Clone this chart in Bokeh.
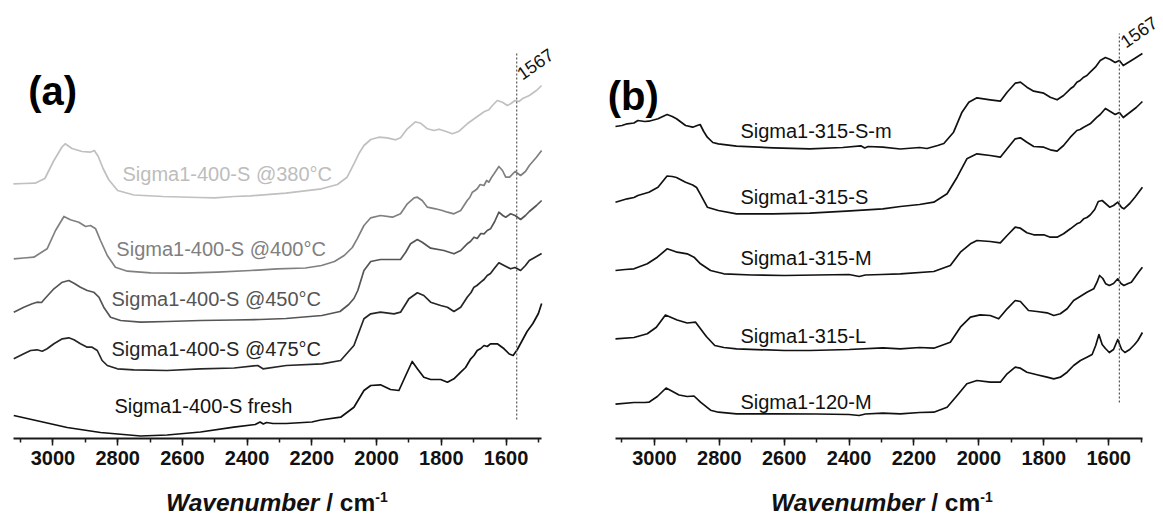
from bokeh.plotting import figure
from bokeh.layouts import row, column
from bokeh.models import Range1d, FixedTicker, Label, Div
from bokeh.core.properties import value
from bokeh.embed import file_html
from bokeh.resources import INLINE

# ---------------------------------------------------------------------------
# Panel (a): Sigma1-400-S, DRIFT spectra after reaction at several temperatures
# (wavenumber in cm-1, intensity in offset arbitrary units)
# ---------------------------------------------------------------------------
A380_WN = [3122, 3090, 3055, 3025, 2997, 2972, 2962, 2941, 2910, 2885, 2872, 2860, 2845,
           2828, 2800, 2750, 2660, 2550, 2500, 2440, 2390, 2280, 2170, 2121, 2091, 2070,
           2055, 2039, 2018, 1993, 1967, 1941, 1926, 1905, 1880, 1864, 1843, 1823, 1807,
           1787, 1766, 1745, 1720, 1694, 1668, 1653, 1642, 1627, 1611, 1596, 1586, 1572,
           1560, 1550, 1528, 1506, 1490]
A380_Y = [257.7, 258, 258.3, 263, 281, 294.5, 297.7, 293, 290, 289.3, 291, 285, 273,
          262, 251, 246.5, 245, 244, 243.7, 245, 245.7, 248.3, 252.7, 257, 264.3, 277.7,
          287.7, 296, 302, 304.3, 303.7, 301.7, 303.7, 312.7, 319.7, 318.3, 312.7, 311, 312.3,
          310.3, 307.7, 310.3, 317.7, 323.7, 329.7, 331.7, 336, 341, 339.3, 336, 337.7, 341,
          340, 342.7, 346, 351, 356]

A400_WN = [3121, 3090, 3059, 3018, 2992, 2966, 2946, 2920, 2899, 2884, 2868, 2853, 2832,
           2807, 2770, 2698, 2595, 2492, 2389, 2307, 2220, 2170, 2130, 2100, 2075, 2060,
           2039, 2018, 1988, 1951, 1926, 1905, 1884, 1874, 1859, 1843, 1818, 1797, 1781,
           1761, 1740, 1720, 1712, 1704, 1696, 1689, 1680, 1668, 1660, 1653, 1645, 1637,
           1622, 1611, 1601, 1589, 1572, 1555, 1540, 1528, 1506, 1490]
A400_Y = [182.7, 183.5, 184.3, 192.7, 211, 225, 221.7, 219.3, 215, 216, 212.7, 201, 186,
          174.3, 170.3, 168.7, 168.3, 169.3, 171, 172.7, 173.5, 176, 180, 186, 194, 202.7,
          216, 223.7, 226, 224.3, 227.7, 237.7, 243.7, 244.3, 241, 234.3, 232.7, 231, 229.3,
          227.7, 231, 241, 244, 249.3, 251, 252.7, 257, 256, 261, 259.3, 264, 267.7,
          275, 271, 264.3, 264.3, 270, 266, 270, 276, 284.3, 291]

A450_WN = [3121, 3090, 3064, 3049, 3035, 3028, 2997, 2971, 2951, 2935, 2915, 2894, 2874,
           2858, 2843, 2822, 2791, 2729, 2647, 2544, 2440, 2360, 2280, 2169, 2113, 2086,
           2070, 2058, 2039, 2018, 1988, 1951, 1926, 1910, 1895, 1874, 1859, 1833, 1792,
           1761, 1740, 1720, 1710, 1699, 1689, 1678, 1668, 1658, 1648, 1635, 1622, 1610,
           1601, 1586, 1572, 1555, 1540, 1528, 1506, 1490]
A450_Y = [129.3, 134.3, 137.7, 139.3, 139, 141.7, 152.7, 159.3, 161, 158.3, 154.3, 151, 149.3,
          144.3, 134.3, 124.3, 121, 119.3, 120, 121, 121.5, 122, 123, 126, 130, 137,
          143, 151, 171, 180, 182, 182, 182, 189.3, 197.7, 202, 199.3, 193.3, 191,
          187.7, 191, 197.7, 200, 204.3, 203, 208, 207.7, 211, 212.7, 220, 229.3, 226,
          224.3, 227.7, 226, 222, 226, 230, 236, 241]

A475_WN = [3121, 3090, 3069, 3049, 3033, 3018, 2997, 2971, 2951, 2935, 2915, 2894, 2879,
           2863, 2848, 2832, 2801, 2750, 2647, 2544, 2440, 2367, 2351, 2279, 2169, 2111,
           2070, 2039, 2018, 1988, 1946, 1926, 1900, 1874, 1854, 1833, 1802, 1781, 1761,
           1740, 1720, 1708, 1699, 1690, 1678, 1668, 1658, 1648, 1637, 1622, 1606, 1586,
           1572, 1555, 1540, 1528, 1506, 1490]
A475_Y = [82.7, 87.7, 91, 91.7, 90.3, 92.7, 97.7, 102.7, 103.7, 101.7, 97.7, 94.3, 94.3,
          91, 81, 76, 72.7, 71.7, 71, 72.7, 73.5, 76, 72.7, 76, 77.7, 81,
          96, 122.7, 127.7, 129.3, 127.7, 129.3, 142.7, 148.7, 146, 139.3, 136, 134.3, 130,
          134.3, 144.3, 149, 154.3, 156, 159.3, 162, 166, 168, 172.7, 178.7, 176, 172.7,
          174, 171, 176, 181, 185, 188]

AFRESH_WN = [3121, 3059, 2956, 2853, 2729, 2647, 2544, 2441, 2375, 2360, 2350, 2340, 2320,
             2279, 2200, 2173, 2111, 2070, 2039, 2018, 1988, 1957, 1931, 1910, 1890, 1874,
             1854, 1833, 1802, 1781, 1761, 1740, 1725, 1709, 1699, 1689, 1678, 1668, 1658,
             1648, 1627, 1606, 1590, 1578, 1565, 1550, 1535, 1517, 1500, 1490]
AFRESH_Y = [26, 21.5, 14, 9, 5.5, 6.5, 9.5, 14.3, 17, 19.5, 17.5, 19, 18,
            18, 19.5, 21.5, 24.3, 34.3, 51, 56, 56.7, 52, 51, 66, 80, 72.7,
            64.3, 62, 62, 59.3, 62.7, 69.3, 74, 82.7, 86, 91, 93, 96, 95,
            97.7, 97.7, 92.7, 87.5, 86, 92, 101, 110, 118, 128, 138]

# ---------------------------------------------------------------------------
# Panel (b): Sigma1 series with different preparation conditions
# ---------------------------------------------------------------------------
BSM_WN = [3120, 3100, 3084, 3063, 3051, 3030, 3017, 2989, 2961, 2945, 2932, 2904, 2882,
          2868, 2859, 2848, 2837, 2820, 2803, 2747, 2634, 2521, 2420, 2364, 2352, 2341,
          2296, 2242, 2183, 2160, 2127, 2108, 2078, 2052, 2031, 2006, 1965, 1934, 1913,
          1888, 1872, 1852, 1831, 1800, 1780, 1759, 1739, 1718, 1708, 1698, 1688, 1677,
          1667, 1657, 1641, 1626, 1610, 1595, 1580, 1567, 1555, 1540, 1520, 1496]
BSM_Y = [315, 316, 317.7, 318.5, 321, 320, 320.3, 322.7, 327, 325, 322.7, 316, 314.3,
         316, 317, 310, 304.3, 299, 297.7, 295.3, 293.7, 292.7, 294, 295.7, 293.5, 295,
         294.3, 292.5, 294, 293, 296, 298, 309.3, 329.3, 339.3, 343.7, 341.7, 340.3, 349.3,
         358.3, 359.3, 354.3, 350.3, 348.3, 344.3, 341.7, 346, 352.7, 355, 359.3, 361, 364.3,
         366, 369.3, 374.3, 381, 384, 382, 379, 381, 376, 379, 383, 388]

BS_WN = [3120, 3084, 3063, 3051, 3017, 2989, 2961, 2945, 2932, 2904, 2882, 2870, 2859,
         2837, 2803, 2747, 2634, 2521, 2409, 2296, 2242, 2183, 2139, 2098, 2067, 2037,
         2006, 1965, 1934, 1913, 1888, 1872, 1852, 1831, 1800, 1780, 1759, 1739, 1718,
         1698, 1688, 1677, 1667, 1657, 1636, 1626, 1610, 1595, 1580, 1567, 1555, 1535,
         1515, 1496]
BS_Y = [239.3, 242.7, 244, 246, 249.3, 254.3, 265.5, 265, 264, 259.3, 256.5, 254, 247.7,
        234.3, 231, 227.7, 227.7, 228.3, 230.3, 232.7, 235, 237, 239.3, 247.7, 264.3, 282.7,
        287.7, 286, 284.3, 292.7, 302.7, 303.7, 299.3, 295, 294.3, 291.7, 290.3, 296, 304.3,
        311, 312, 314.3, 316, 317.7, 324.3, 327, 333, 330, 327, 329, 324, 329,
        334, 340]

BM_WN = [3120, 3090, 3063, 3022, 2991, 2961, 2945, 2930, 2899, 2878, 2858, 2827, 2786,
         2700, 2600, 2500, 2400, 2369, 2350, 2300, 2242, 2139, 2088, 2057, 2026, 2006,
         1965, 1934, 1913, 1888, 1872, 1852, 1831, 1800, 1780, 1759, 1739, 1718, 1698,
         1688, 1677, 1667, 1657, 1643, 1632, 1620, 1597, 1585, 1572, 1560, 1553, 1535,
         1519, 1496]
BM_Y = [171, 172, 172.7, 177.7, 184.3, 192.7, 191, 189.3, 187.7, 184.3, 177.7, 171, 167.7,
        166.5, 166, 166.5, 167, 165, 166.5, 167, 167.7, 170, 176, 189.3, 197.7, 201,
        200, 198.7, 206, 214.3, 213.3, 208.7, 206.7, 206.7, 204.3, 204.3, 207.7, 212.7, 217.7,
        219, 222.7, 224, 226.5, 232, 240, 241, 234.3, 236, 239.3, 234, 232.7, 238,
        244.3, 254.3]

BL_WN = [3120, 3063, 3022, 2994, 2966, 2930, 2899, 2873, 2858, 2840, 2814, 2786, 2747,
         2600, 2521, 2400, 2296, 2242, 2183, 2139, 2088, 2057, 2026, 1996, 1965, 1939,
         1913, 1888, 1872, 1847, 1821, 1790, 1769, 1749, 1728, 1708, 1688, 1667, 1646,
         1636, 1628, 1618, 1609, 1598, 1585, 1572, 1562, 1553, 1540, 1530, 1508, 1496]
BL_Y = [102.7, 104, 107.7, 114.3, 126.5, 121.5, 118.5, 119.3, 112.7, 105, 96, 94, 92.7,
        91, 91, 92, 93.7, 92.7, 94, 93.3, 99.3, 114.3, 124.3, 126.7, 126, 122.7,
        132.7, 141, 140, 131, 130, 128.7, 126, 127.7, 132.7, 141, 145, 149.3, 152.7,
        159.3, 166, 163, 157.7, 156, 158, 162.7, 158, 156, 158, 159.3, 169.3, 174.3]

B120M_WN = [3120, 3063, 3030, 3017, 2991, 2964, 2924, 2899, 2878, 2858, 2827, 2803, 2747,
            2634, 2500, 2400, 2369, 2350, 2296, 2242, 2183, 2139, 2098, 2067, 2037, 2006,
            1965, 1934, 1913, 1888, 1872, 1852, 1821, 1790, 1769, 1749, 1728, 1708, 1687,
            1667, 1651, 1640, 1630, 1620, 1610, 1598, 1585, 1572, 1560, 1550, 1535, 1520,
            1510, 1496]
B120M_Y = [37.3, 39, 39, 39.3, 45, 53.5, 46.5, 45, 45.5, 39.3, 31.3, 29.3, 27.7,
           27.7, 27.5, 27, 26, 27.5, 28.3, 27.7, 29, 29.3, 34.3, 46, 57.7, 61,
           59.3, 59.3, 67.7, 74.3, 73.3, 69.3, 66.7, 64.3, 62.7, 64.3, 69.3, 76, 81,
           84.3, 87, 96, 107, 97, 93, 89, 92, 102, 92, 89, 92, 97,
           101, 109]

# curve labels
A_NAMES = ["Sigma1-400-S @380\u00b0C", "Sigma1-400-S @400\u00b0C", "Sigma1-400-S @450\u00b0C",
           "Sigma1-400-S @475\u00b0C", "Sigma1-400-S fresh"]
B_NAMES = ["Sigma1-315-S-m", "Sigma1-315-S", "Sigma1-315-M", "Sigma1-315-L", "Sigma1-120-M"]

MAJOR_TICKS = [1600, 1800, 2000, 2200, 2400, 2600, 2800, 3000]
MINOR_TICKS = [1500, 1600, 1700, 1800, 1900, 2000, 2100, 2200, 2300, 2400, 2500, 2600,
               2700, 2800, 2900, 3000, 3100]
MARKER_WN = 1567

FONT = "Liberation Sans"
TITLE_HTML = ('<span style="font-style:italic">Wavenumber</span> / cm'
              '<sup style="font-size:14px">-1</sup>')


def make_panel(width, view_start, view_end, axis_start, axis_end):
    # the frame spans the whole canvas; the axis itself is limited by its bounds
    p = figure(width=width, height=478, x_range=Range1d(view_start, view_end),
               y_range=Range1d(3, 441), output_backend="svg", toolbar_location=None,
               min_border_left=0, min_border_right=0,
               min_border_top=0, min_border_bottom=40, y_axis_location=None,
               outline_line_color=None, background_fill_color="white",
               border_fill_color="white")
    p.grid.visible = False
    ax = p.xaxis[0]
    ax.bounds = (axis_end, axis_start)
    ax.ticker = FixedTicker(ticks=MAJOR_TICKS, minor_ticks=MINOR_TICKS)
    ax.axis_line_width = 2
    ax.axis_line_color = "#1a1a1a"
    ax.major_tick_in = 0
    ax.major_tick_out = 7
    ax.minor_tick_in = 0
    ax.minor_tick_out = 4
    ax.major_tick_line_width = 1.5
    ax.minor_tick_line_width = 1.5
    ax.major_tick_line_color = "#1a1a1a"
    ax.minor_tick_line_color = "#1a1a1a"
    ax.major_label_text_font = FONT
    ax.major_label_text_font_style = "bold"
    ax.major_label_text_font_size = "20px"
    ax.major_label_text_color = "#111111"
    ax.major_label_standoff = 5
    return p


def make_title(width, pad_left):
    return Div(text=TITLE_HTML, width=width, height=40, margin=(0, 0, 0, 0),
               styles={"font-family": FONT, "font-size": "24.5px", "font-weight": "bold",
                       "color": "#111111", "line-height": "27px",
                       "padding-left": f"{pad_left}px", "padding-top": "6px",
                       "box-sizing": "border-box", "white-space": "nowrap"})


def add_marker(p, y_top, y_bottom, label_x, label_y):
    p.line(x=[MARKER_WN, MARKER_WN], y=[y_bottom, y_top], line_color="#555555",
           line_width=1.2, line_dash="2 2")
    p.add_layout(Label(x=label_x, y=label_y, text=str(MARKER_WN), angle=35,
                       angle_units="deg", text_font=FONT, text_font_size="18px",
                       text_align="left", text_baseline="alphabetic",
                       text_color="#111111"))


# ---------------- panel (a) ----------------
pa = make_panel(590, 3162, 1339, 3122, 1490)
a_series = [(A380_WN, A380_Y, "#c0c0c0"), (A400_WN, A400_Y, "#808080"),
            (A450_WN, A450_Y, "#555555"), (A475_WN, A475_Y, "#262626"),
            (AFRESH_WN, AFRESH_Y, "#111111")]
for wn, yy, col in a_series:
    pa.line(wn, yy, line_color=col, line_width=1.7, line_join="round")

add_marker(pa, 389, 22, 1561, 366)

pa.text(x=[2785, 2804, 2819, 2819, 2810], y=[268, 193, 143, 93, 36], text=A_NAMES,
        text_color=["#bdbdbd", "#808080", "#555555", "#262626", "#111111"],
        text_font=value(FONT), text_font_size="20px", text_align="left",
        text_baseline="middle")
pa.add_layout(Label(x=3001, y=351, text="(a)", text_font=FONT, text_font_style="bold",
                    text_font_size="40px", text_align="center", text_baseline="middle",
                    text_color="#000000"))

# ---------------- panel (b) ----------------
pb = make_panel(573, 3197, 1431, 3120, 1496)
for wn, yy in [(BSM_WN, BSM_Y), (BS_WN, BS_Y), (BM_WN, BM_Y), (BL_WN, BL_Y),
               (B120M_WN, B120M_Y)]:
    pb.line(wn, yy, line_color="#111111", line_width=1.7, line_join="round")

add_marker(pb, 408, 39, 1558, 398)

pb.text(x=[2735] * 5, y=[311, 245, 184, 106, 40], text=B_NAMES, text_color="#111111",
        text_font=value(FONT), text_font_size="20px", text_align="left",
        text_baseline="middle")
pb.add_layout(Label(x=3065, y=346, text="(b)", text_font=FONT, text_font_style="bold",
                    text_font_size="40px", text_align="center", text_baseline="middle",
                    text_color="#000000"))

layout = row(column(pa, make_title(590, 166)), column(pb, make_title(573, 181)))
open("out.html", "w").write(file_html(layout, INLINE))
